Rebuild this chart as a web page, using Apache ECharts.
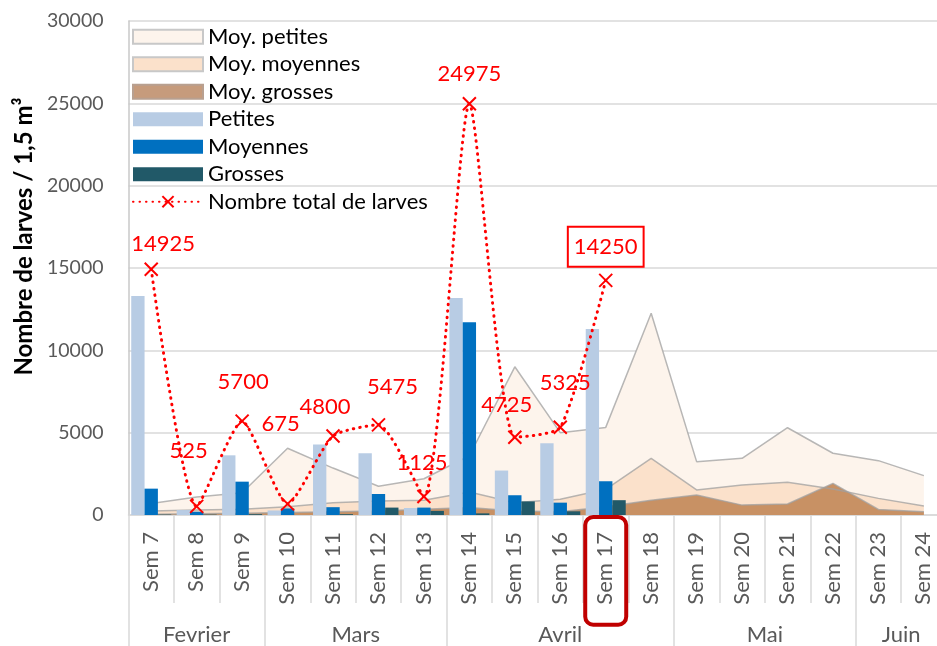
<!DOCTYPE html>
<html><head><meta charset="utf-8">
<script src="https://cdn.jsdelivr.net/npm/echarts@6/dist/echarts.min.js"></script>
<style>html,body{margin:0;padding:0;background:#fff;overflow:hidden}#c{width:937px;height:646px}</style>
</head><body><div id="c"></div>
<script>
// ---- data ----
const weeks = ['Sem 7','Sem 8','Sem 9','Sem 10','Sem 11','Sem 12','Sem 13','Sem 14','Sem 15','Sem 16','Sem 17','Sem 18','Sem 19','Sem 20','Sem 21','Sem 22','Sem 23','Sem 24'];
const months = ['Fevrier','Mars','Avril','Mai','Juin'];
const monthWeekCounts = [3,4,5,4,2];
const moyPetites  = [700,1100,1350,4050,2850,1750,2200,3600,9000,5000,5320,12250,3240,3440,5300,3750,3300,2390];
const moyMoyennes = [250,300,350,500,750,850,900,1400,750,950,1560,3440,1520,1820,1985,1580,1010,550];
const moyGrosses  = [50,80,100,150,200,250,350,450,250,200,500,900,1210,600,670,1920,340,200];
const petites  = [13300,300,3625,275,4275,3750,425,13175,2700,4350,11300];
const moyennes = [1600,200,2025,400,475,1275,450,11700,1200,750,2050];
const grosses  = [25,25,50,0,50,450,250,100,825,225,900];
const totals   = [14925,525,5700,675,4800,5475,1125,24975,4725,5325,14250];
const yMin = 0, yMax = 30000, yInterval = 5000;
const highlightWeek = 'Sem 17';

// ---- styling helpers (not data) ----
const FONT = "Lato, 'Open Sans', sans-serif";
const labelOffsets = [[12,-2],[-8,-32],[1,-16],[-7,-56],[-8,-6],[14,-14],[-2,-10],[0,-6],[-8,-9],[5,-21],[0,-2]];
const boxedIndex = totals.length - 1;

// month boundaries / centres on a 0..N value scale
const monthBounds = [0];
monthWeekCounts.forEach(c => monthBounds.push(monthBounds[monthBounds.length-1] + c));
const monthCenters = months.map((m,i) => (monthBounds[i] + monthBounds[i+1]) / 2);

const chart = echarts.init(document.getElementById('c'), null, {renderer:'canvas'});

const areaLine = {color:'rgba(160,160,160,0.75)', width:1.5};
const totalData = totals.map((v,i) => {
  const lbl = {offset: labelOffsets[i]};
  if (i === boxedIndex) { Object.assign(lbl, {borderColor:'#FF0000', borderWidth:2, padding:[8,5,8,5], backgroundColor:'#fff'}); }
  return {value: v, label: lbl};
});

const richBase = {fontSize:22, color:'#595959', fontFamily:FONT, lineHeight:24, padding:[9,15,10,20], borderWidth:4, borderRadius:8};

chart.setOption({
  animation:false,
  textStyle:{fontFamily:FONT},
  grid:{left:128.5, width:818.1, top:21, bottom:131, containLabel:false, outerBoundsMode:'none'},
  legend:{
    orient:'vertical', left:132, top:25.7, padding:0, itemGap:5.5,
    itemWidth:70, itemHeight:14,
    textStyle:{fontSize:22, color:'#000', fontFamily:FONT, lineHeight:22},
    data:[
      {name:'Moy. petites', icon:'rect', itemStyle:{color:'#FDF4EC', borderColor:'#C8C8C8', borderWidth:2}},
      {name:'Moy. moyennes', icon:'rect', itemStyle:{color:'#FBE1CB', borderColor:'#C8C8C8', borderWidth:2}},
      {name:'Moy. grosses', icon:'rect', itemStyle:{color:'#C69B7C', borderColor:'#B8A090', borderWidth:2}},
      {name:'Petites', icon:'rect'},
      {name:'Moyennes', icon:'rect'},
      {name:'Grosses', icon:'rect'},
      {name:'Nombre total de larves'}
    ]
  },
  xAxis:[
    {
      type:'category', data:weeks, boundaryGap:true,
      axisLine:{show:true, lineStyle:{color:'#D9D9D9', width:1.5}},
      axisTick:{show:true, interval:0, alignWithLabel:false, length:88, lineStyle:{color:'#D9D9D9', width:1.5}},
      axisLabel:{
        interval:0, rotate:90, margin:2,
        formatter: v => (v === highlightWeek ? '{h|' + v + '}' : '{n|' + v + '}'),
        rich:{
          n:Object.assign({}, richBase, {borderColor:'rgba(0,0,0,0)'}),
          h:Object.assign({}, richBase, {borderColor:'#C00000'})
        }
      },
      splitLine:{show:false}
    },
    {
      type:'value', min:0, max:weeks.length, position:'bottom', offset:0,
      axisLine:{show:false}, splitLine:{show:false},
      axisTick:{show:true, customValues:monthBounds, length:131, lineStyle:{color:'#D9D9D9', width:1.5}},
      axisLabel:{
        customValues:monthCenters, margin:109,
        formatter: v => { const i = monthCenters.indexOf(v); return i >= 0 ? months[i] : ''; },
        fontSize:22, color:'#595959', fontFamily:FONT
      }
    }
  ],
  yAxis:{
    type:'value', min:yMin, max:yMax, interval:yInterval,
    axisLine:{show:true, lineStyle:{color:'#C8C8C8', width:1.5}},
    axisTick:{show:false},
    axisLabel:{fontSize:19.5, color:'#595959', margin:25, fontFamily:FONT, formatter: v => String(v)},
    splitLine:{lineStyle:{color:'#D9D9D9', width:1.5}},
    name:'Nombre de larves / 1,5 m³', nameLocation:'middle', nameGap:91,
    nameTextStyle:{fontSize:24, fontWeight:'bold', color:'#000', fontFamily:FONT, padding:[0,0,0,63]}
  },
  series:[
    {name:'Moy. petites', type:'line', data:moyPetites, symbol:'none', lineStyle:areaLine, z:1,
     areaStyle:{color:'#FDF4EC', opacity:1}, itemStyle:{color:'#FDF4EC'}},
    {name:'Moy. moyennes', type:'line', data:moyMoyennes, symbol:'none', lineStyle:areaLine, z:1,
     areaStyle:{color:'#FBE1CB', opacity:1}, itemStyle:{color:'#FBE1CB'}},
    {name:'Moy. grosses', type:'line', data:moyGrosses, symbol:'none', lineStyle:areaLine, z:1,
     areaStyle:{color:'#C89164', opacity:1}, itemStyle:{color:'#C89164'}},
    {name:'Petites', type:'bar', data:petites, barGap:'0%', barCategoryGap:'12%', z:3, itemStyle:{color:'#B8CCE4'}},
    {name:'Moyennes', type:'bar', data:moyennes, barGap:'0%', barCategoryGap:'12%', z:3, itemStyle:{color:'#0070C0'}},
    {name:'Grosses', type:'bar', data:grosses, barGap:'0%', barCategoryGap:'12%', z:3, itemStyle:{color:'#215968'}},
    {name:'Nombre total de larves', type:'line', data:totalData, smooth:0.2,
     symbol:'path://M0,0L10,10M10,0L0,10', symbolSize:13,
     itemStyle:{color:'#FF0000', borderColor:'#FF0000', borderWidth:2},
     lineStyle:{color:'#FF0000', width:3, type:[0.5,6], cap:'round'},
     label:{show:true, position:'top', fontSize:22, color:'#FF0000', fontFamily:FONT},
     z:5}
  ]
});
</script>
</body></html>
